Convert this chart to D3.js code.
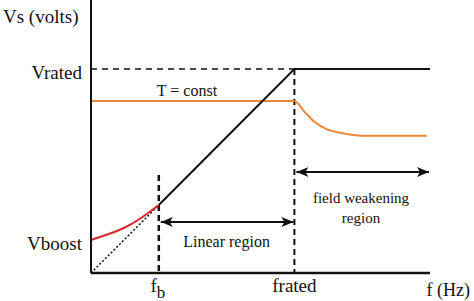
<!DOCTYPE html>
<html>
<head>
<meta charset="utf-8">
<script src="https://cdn.jsdelivr.net/npm/d3@7"></script>
<style>
  body { margin: 0; background: #fff; }
</style>
</head>
<body>
<svg id="chart" width="474" height="301"></svg>
<script>
// frequency in Hz-like units (0..100), voltage in % of Vrated
const fb = 20, fRated = 60, fMax = 100;
const vRated = 100, vBoost = 16.2;
const linearLine = [[0, 0], [fb, 33.3], [fRated, vRated], [fMax, vRated]];
const boostCurve = [[0, 16.2], [5, 19.0], [10, 22.3], [15, 27.2], [20, 33.3]];
const torqueCurve = [[0, 84.3], [60, 84.3], [63, 79], [66, 74], [69.5, 70.5], [74, 68.6], [80, 67.3], [99, 67.3]];
const fbMarkTop = 48;
const linArrowV = 25, fwArrowV = 49.5;

const serif = '"Liberation Serif", "DejaVu Serif", "Times New Roman", serif';

let svg = d3.select('#chart');
let x = d3.scaleLinear().domain([0, fMax]).range([91, 430]);
let y = d3.scaleLinear().domain([0, vRated]).range([273, 69]);
let line = d3.line().x(d => x(d[0])).y(d => y(d[1]));
let smooth = d3.line().x(d => x(d[0])).y(d => y(d[1])).curve(d3.curveMonotoneX);
let natural = d3.line().x(d => x(d[0])).y(d => y(d[1])).curve(d3.curveNatural);

// arrow markers
let defs = svg.append('defs');
['end', 'start'].forEach(function (k) {
    defs.append('marker')
        .attr('id', 'arr-' + k)
        .attr('viewBox', '0 0 12 10')
        .attr('refX', k == 'end' ? 12 : 0).attr('refY', 5)
        .attr('markerWidth', 12).attr('markerHeight', 10)
        .attr('markerUnits', 'userSpaceOnUse')
        .attr('orient', 'auto')
        .append('path')
        .attr('d', k == 'end' ? 'M0,0 L12,5 L0,10 L3,5 Z' : 'M12,0 L0,5 L12,10 L9,5 Z')
        .attr('fill', '#111');
});

// dashed guides
svg.append('line')
    .attr('x1', x(0)).attr('x2', x(fRated))
    .attr('y1', y(vRated)).attr('y2', y(vRated))
    .attr('stroke', '#111').attr('stroke-width', 1.5).attr('stroke-dasharray', '6,5');
svg.append('line')
    .attr('x1', x(fRated)).attr('x2', x(fRated))
    .attr('y1', y(vRated)).attr('y2', y(0))
    .attr('stroke', '#111').attr('stroke-width', 2).attr('stroke-dasharray', '6,4');
svg.append('line')
    .attr('x1', x(fb)).attr('x2', x(fb))
    .attr('y1', y(fbMarkTop)).attr('y2', y(0))
    .attr('stroke', '#111').attr('stroke-width', 2.5).attr('stroke-dasharray', '6,4');

// torque constant curve
svg.append('path')
    .attr('d', smooth(torqueCurve))
    .attr('fill', 'none').attr('stroke', '#e8873a').attr('stroke-width', 2);

// V/f line: dotted below fb, solid above
svg.append('path')
    .attr('d', line(linearLine.slice(0, 2)))
    .attr('fill', 'none').attr('stroke', '#111').attr('stroke-width', 1.5).attr('stroke-dasharray', '2,2');
svg.append('path')
    .attr('d', line(linearLine.slice(1)))
    .attr('fill', 'none').attr('stroke', '#111').attr('stroke-width', 2);

// boost curve
svg.append('path')
    .attr('d', natural(boostCurve))
    .attr('fill', 'none').attr('stroke', '#d8262c').attr('stroke-width', 2);

// axes
svg.append('line')
    .attr('x1', x(0)).attr('x2', x(0)).attr('y1', y(0)).attr('y2', 0)
    .attr('stroke', '#111').attr('stroke-width', 2);
svg.append('line')
    .attr('x1', x(0)).attr('x2', x(fMax)).attr('y1', y(0)).attr('y2', y(0))
    .attr('stroke', '#111').attr('stroke-width', 2.5);

// region arrows
svg.append('line')
    .attr('x1', x(fb) + 2).attr('x2', x(fRated) - 1)
    .attr('y1', y(linArrowV)).attr('y2', y(linArrowV))
    .attr('stroke', '#111').attr('stroke-width', 2)
    .attr('marker-start', 'url(#arr-start)').attr('marker-end', 'url(#arr-end)');
svg.append('line')
    .attr('x1', x(fRated) + 2).attr('x2', x(fMax) - 1)
    .attr('y1', y(fwArrowV)).attr('y2', y(fwArrowV))
    .attr('stroke', '#111').attr('stroke-width', 2)
    .attr('marker-start', 'url(#arr-start)').attr('marker-end', 'url(#arr-end)');

// labels
function label(txt, px, py, size, anchor) {
    return svg.append('text')
        .attr('x', px).attr('y', py)
        .attr('font-family', serif)
        .attr('font-size', size + 'px')
        .attr('fill', '#111')
        .attr('text-anchor', anchor || 'middle')
        .text(txt);
}
label('Vs (volts)', 3, 23, 19, 'start');
label('Vrated', x(0) - 9, y(vRated) + 10, 19, 'end');
label('Vboost', x(0) - 9, y(vBoost) + 10, 19, 'end');
label('T = const', 187, 96, 16);
label('Linear region', x((fb + fRated) / 2), 247, 16);
label('field weakening', 361, 203, 15);
label('region', 361, 223, 15);
label('frated', x(fRated), 292, 19);
label('f (Hz)', 470, 296, 18, 'end');
let fbText = label('f', x(fb) - 1, 292, 19);
fbText.append('tspan').attr('dy', 6).attr('font-size', '17px').text('b');
</script>
</body>
</html>
